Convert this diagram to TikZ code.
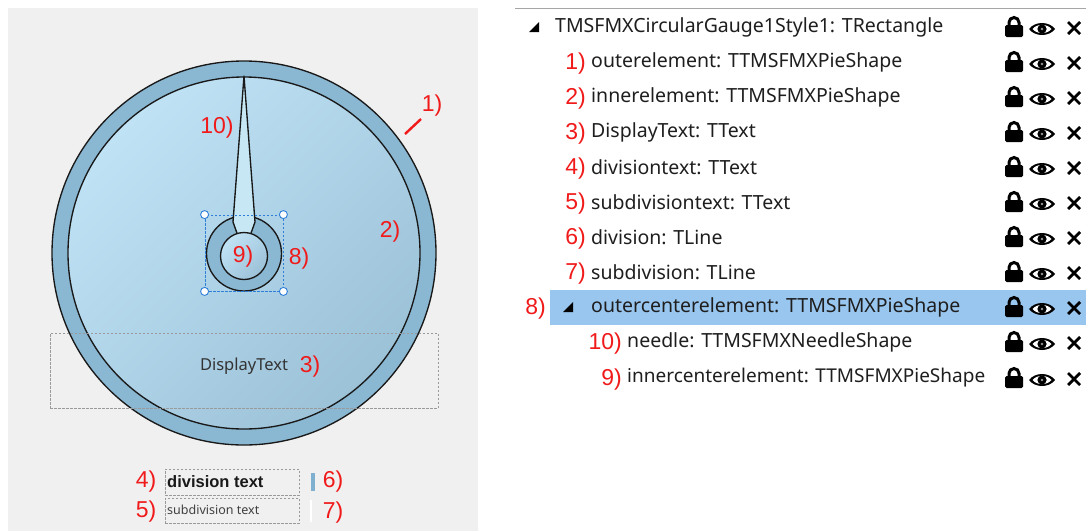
\documentclass[tikz,border=0pt]{standalone}
\usepackage{fontspec}
\setmainfont{Noto Sans}
\newfontfamily\lblfont{Liberation Sans}
\usetikzlibrary{calc}
\definecolor{panelgray}{HTML}{F0F0F0}
\definecolor{ringblue}{HTML}{8AB7D2}
\definecolor{innerlight}{HTML}{C0E2F5}
\definecolor{innerdark}{HTML}{9CC2D8}
\definecolor{needlefill}{HTML}{C6E7F3}
\definecolor{selblue}{HTML}{2F7FD8}
\definecolor{labred}{HTML}{F01A1A}
\definecolor{hilite}{HTML}{99C6EF}
\definecolor{txtdark}{HTML}{1E1E1E}
\definecolor{boxgray}{HTML}{9A9A9A}
\definecolor{divblue}{HTML}{7FB0CF}
\tikzset{
  redlabel/.style={text=labred, font=\lblfont\fontsize{23}{23}\selectfont, inner sep=0pt},
  rowtext/.style={text=txtdark, font=\fontsize{19.5}{20}\selectfont, anchor=west, inner sep=0pt},
  gaugeline/.style={draw=black!90, line width=1.35pt},
  dashbox/.style={draw=boxgray, dashed, dash pattern=on 2.5pt off 1.5pt, line width=0.7pt},
  handle/.style={circle, draw=selblue, fill=white, line width=0.9pt, minimum size=8pt, inner sep=0pt},
  treetri/.style={fill=black},
  icons/.pic={
    % lock
    \fill[rounded corners=1.5pt] (-9,-2) rectangle (9,10);
    \draw[line width=3pt] (-5,-1) -- (-5,-4.5) arc (180:360:5) -- (5,-1);
    % eye
    \fill (15,2) .. controls (21,-6) and (35,-6) .. (41,2) .. controls (35,10) and (21,10) .. (15,2) -- cycle;
    \fill[white] (18.5,2) .. controls (23,-3.5) and (33,-3.5) .. (37.5,2) .. controls (33,7.5) and (23,7.5) .. (18.5,2) -- cycle;
    \fill (28,2) circle (4.6pt);
    \fill[black!40] (28,2) circle (1.3pt);
    % cross
    \draw[line width=2.8pt] (54,-5) -- (66,7) (54,7) -- (66,-5);
  }
}
\begin{document}
\begin{tikzpicture}[x=1pt,y=-1pt]
\useasboundingbox (0,0) rectangle (1086,531);
% left panel background
\fill[panelgray] (8,8) rectangle (478,531);
% gauge
\node[circle, gaugeline, fill=ringblue, minimum size=384pt, inner sep=0pt] (outer) at (244,253) {};
\node[circle, gaugeline, top color=innerlight, bottom color=innerdark, shading angle=45, minimum size=352pt, inner sep=0pt] (inner) at (244,253) {};
\node[circle, gaugeline, fill=ringblue, minimum size=75pt, inner sep=0pt] (outercenter) at (244,253.5) {};
\draw[gaugeline, fill=needlefill, line join=round] (244,76) -- (255,222) -- (250,236) -- (238,236) -- (233,222) -- cycle;
\node[circle, gaugeline, top color=innerlight, bottom color=innerdark, shading angle=45, minimum size=47pt, inner sep=0pt] (innercenter) at (244,256) {};
% selection frame
\node[draw=selblue, dashed, dash pattern=on 2.5pt off 1.5pt, line width=0.8pt, minimum width=78pt, minimum height=76pt, inner sep=0pt] (sel) at (244,253) {};
\foreach \c in {north west, north east, south west, south east}
  \node[handle] at (sel.\c) {};
% display text box
\node[dashbox, minimum width=388pt, minimum height=75pt, inner sep=0pt] (dispbox) at (244,370.5) {};
\node[text=black!80, font=\fontsize{16.5}{17}\selectfont, inner sep=0pt] (disptext) at (244,366) {DisplayText};
% division / subdivision text boxes
\node[dashbox, minimum width=134pt, minimum height=26pt, inner sep=0pt, anchor=north west] (divbox) at (165,469) {};
\node[rowtext, font=\lblfont\bfseries\fontsize{16.5}{17}\selectfont, text=black!90] (divtext) at (167,482) {division text};
\node[dashbox, minimum width=134pt, minimum height=25pt, inner sep=0pt, anchor=north west] (subbox) at (165,498) {};
\node[rowtext, font=\fontsize{12.5}{13}\selectfont, text=black!75] (subtext) at (167,510) {subdivision text};
\fill[divblue] (311,473) rectangle (315,491);
\draw[white, line width=1.4pt] (311,500) -- (311,522);
% red labels on gauge
\coordinate (l1a) at (405,134);
\coordinate (l1b) at (421,119);
\draw[labred, line width=2.4pt] (l1a) -- (l1b);
\node[redlabel] (g1) at (432,106) {1)};
\node[redlabel] (g10) at (217,128) {10)};
\node[redlabel] (g2) at (390,232) {2)};
\node[redlabel] (g9) at (243,257) {9)};
\node[redlabel] (g8) at (299,259) {8)};
\node[redlabel] (g3) at (310,367) {3)};
\node[redlabel] (g4) at (146,482) {4)};
\node[redlabel] (g5) at (146,512) {5)};
\node[redlabel] (g6) at (333,482) {6)};
\node[redlabel] (g7) at (333,513) {7)};
% right panel
\draw[black!35, line width=1pt] (515,8) -- (1086,8);
\fill[hilite] (550,290) rectangle (1086,325);
\fill[treetri] (539,22) -- (539,32) -- (529,32) -- cycle;
\node[rowtext] (r0) at (555,27) {TMSFMXCircularGauge1Style1: TRectangle};
\foreach \y/\lab/\txt in {62/1)/outerelement: TTMSFMXPieShape,
                          97/2)/innerelement: TTMSFMXPieShape,
                          132/3)/DisplayText: TText,
                          167/4)/divisiontext: TText,
                          202/5)/subdivisiontext: TText,
                          237/6)/division: TLine,
                          272/7)/subdivision: TLine} {
  \node[redlabel, anchor=east] (rl\y) at (586,\y+2) {\lab};
  \node[rowtext] (rt\y) at (591,\y) {\txt};
}
\node[redlabel, anchor=east] (rl307) at (546,309) {8)};
\fill[treetri] (573,302) -- (573,312) -- (563,312) -- cycle;
\node[rowtext] (rt307) at (591,307) {outercenterelement: TTMSFMXPieShape};
\node[redlabel, anchor=east] (rl342) at (622,344) {10)};
\node[rowtext] (rt342) at (627,342) {needle: TTMSFMXNeedleShape};
\node[redlabel, anchor=east] (rl378) at (622,380) {9)};
\node[rowtext, font=\fontsize{19}{20}\selectfont] (rt378) at (627,378) {innercenterelement: TTMSFMXPieShape};
\foreach \y in {27,62,97,132,167,202,237,272,307,342,378}
  \pic at (1014,\y) {icons};
\end{tikzpicture}
\end{document}
